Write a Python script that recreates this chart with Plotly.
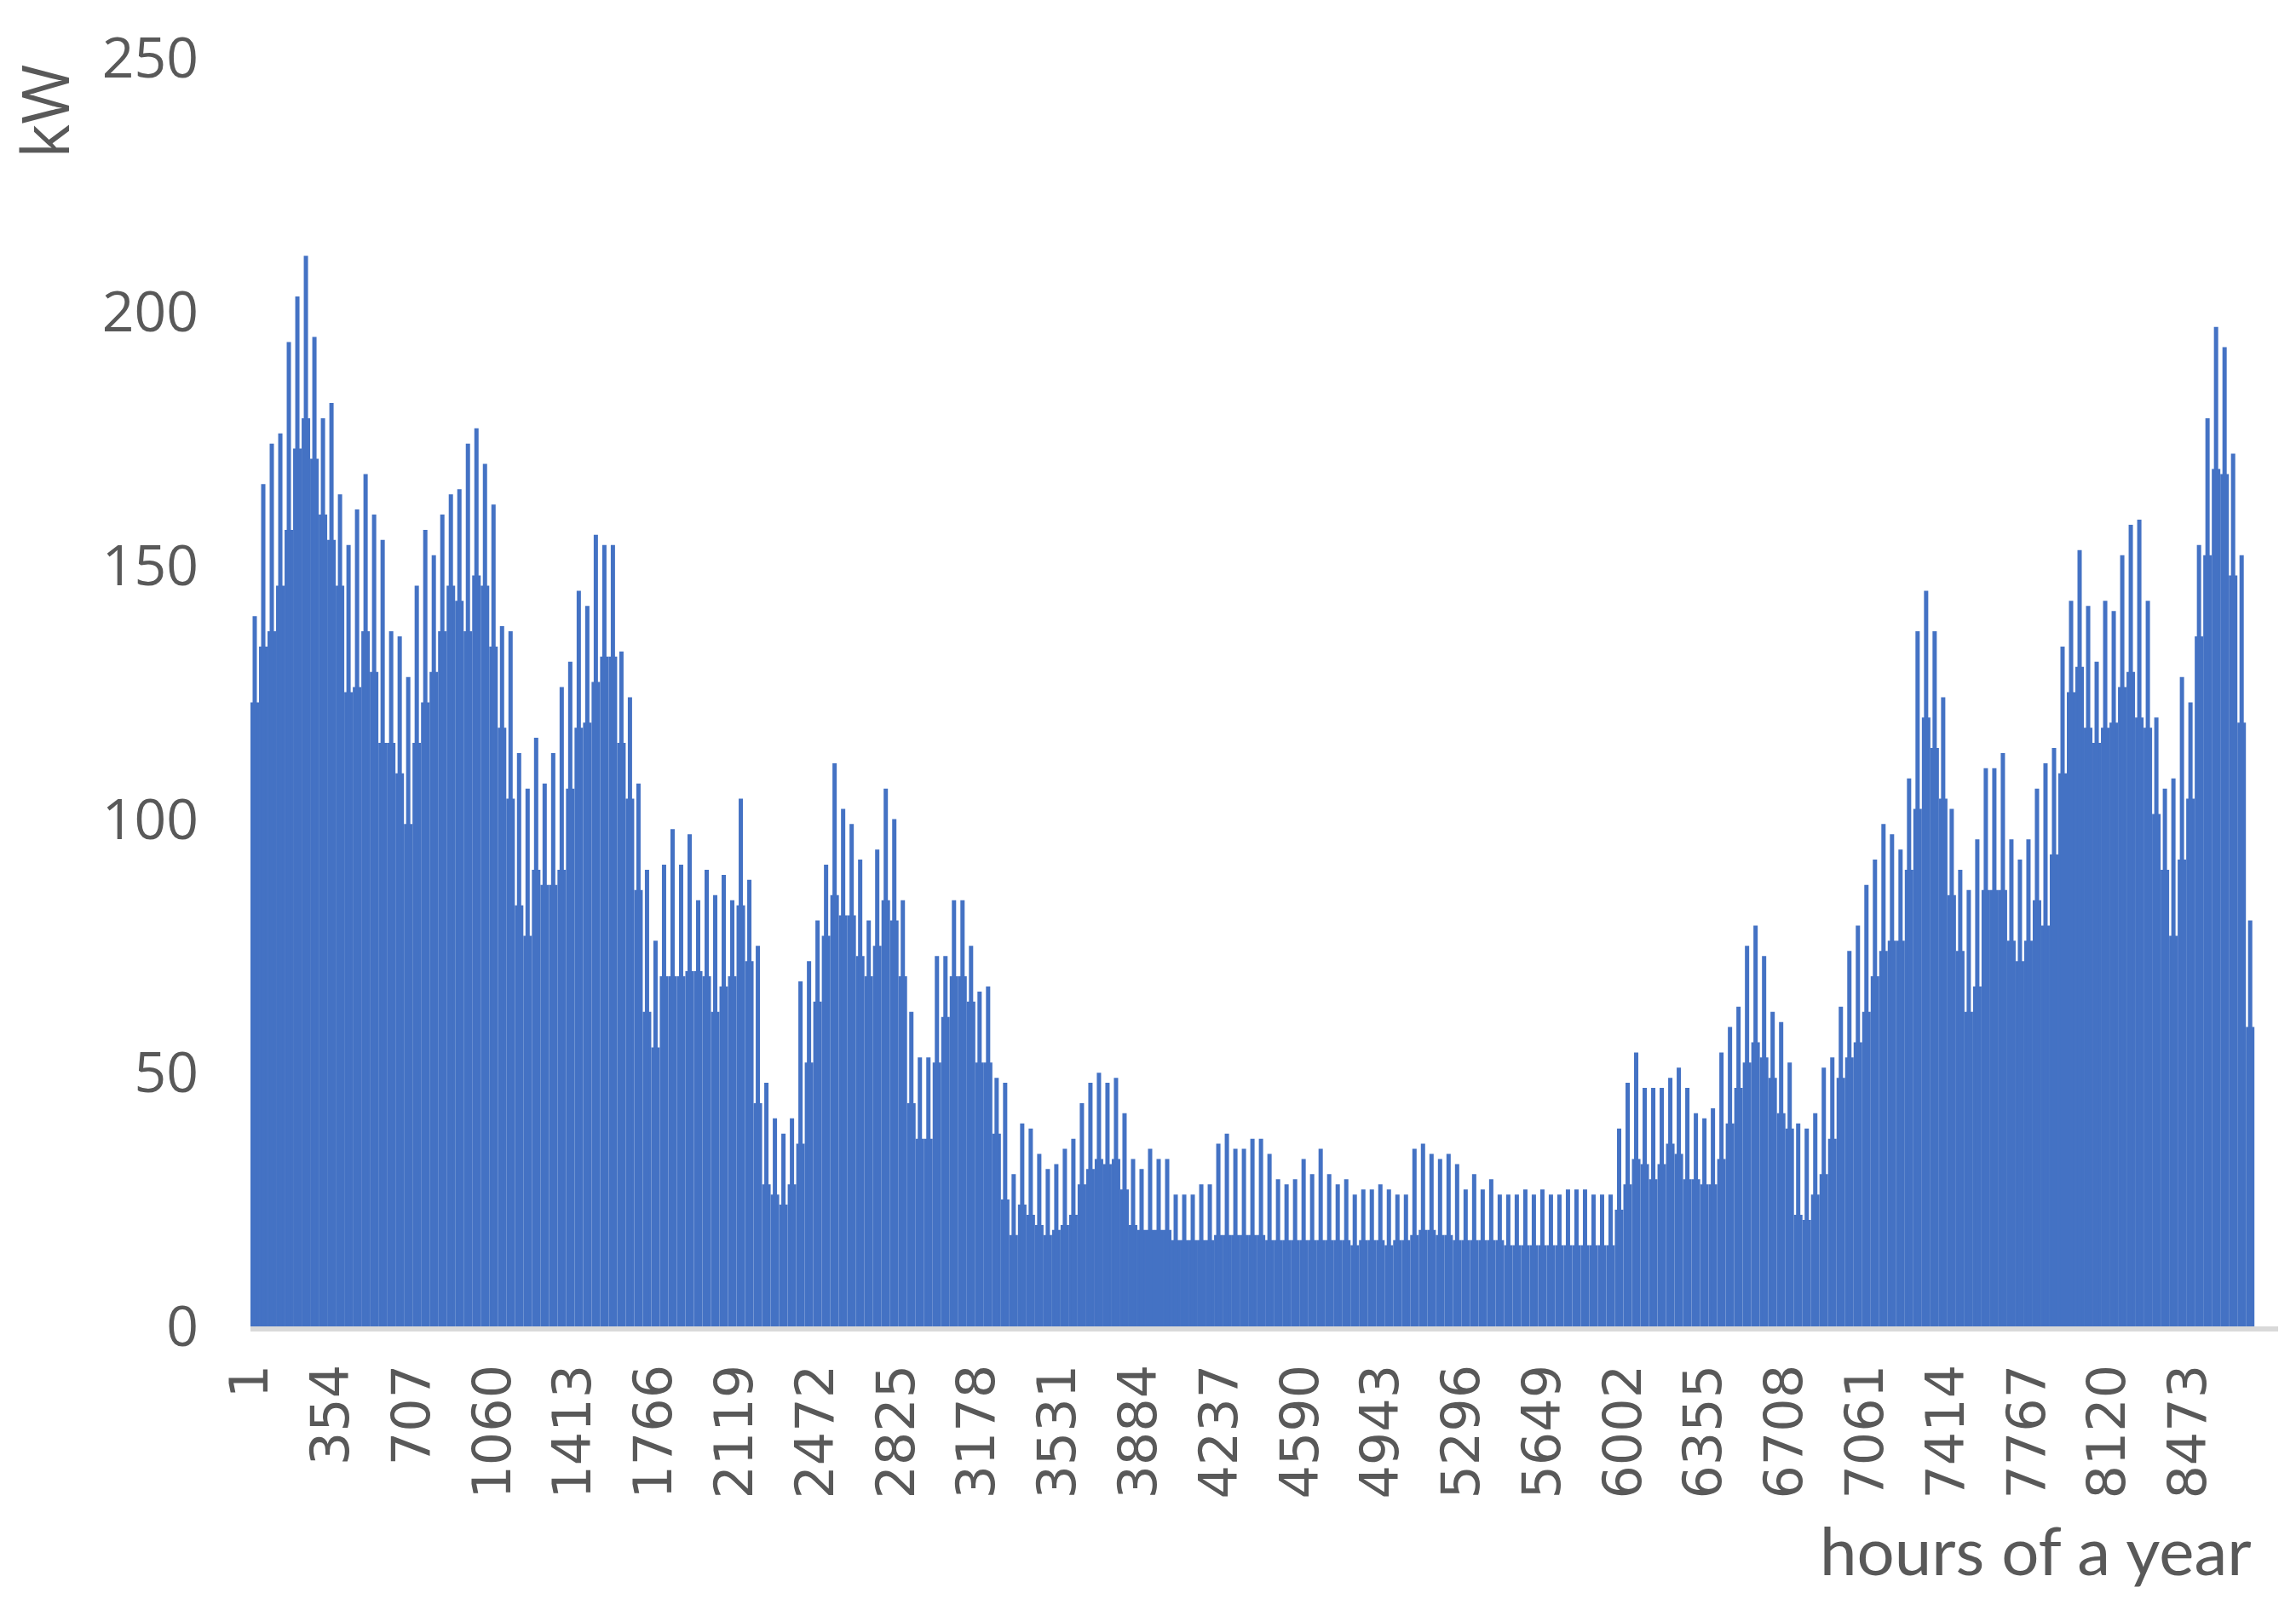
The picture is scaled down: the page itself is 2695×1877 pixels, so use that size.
import plotly.graph_objects as go

# hourly load in blocks of ~37 h (one block = 10 px of the original)
# peak_kw = tallest bar in the block, base_kw = level the block is mostly filled to
peak_kw = [
    140, 166, 174, 176, 194, 203, 211, 195, 179, 182, 164, 154, 161, 168, 160,
    155, 137, 136, 128, 146, 157, 152, 160, 164, 165, 174, 177, 170, 162, 138,
    137, 113, 106, 116, 107, 113, 126, 131, 145, 142, 156, 154, 154, 133, 124,
    107, 90, 76, 91, 98, 91, 97, 84, 90, 85, 89, 84, 104, 88,
    75, 48, 41, 38, 41, 68, 72, 80, 91, 111, 102, 99, 92, 80, 94,
    106, 100, 84, 62, 53, 53, 73, 73, 84, 84, 75, 66, 67, 49,
    48, 30, 40, 39, 34, 31, 32, 35, 37, 44, 48, 50, 48, 49, 42,
    33, 31, 35, 33, 33, 26, 26, 26, 28, 28, 36, 38, 35, 35, 37,
    37, 34, 29, 28, 29, 33, 30, 35, 30, 28, 29, 26, 27, 27, 28,
    27, 26, 26, 35, 36, 34, 33, 34, 32, 27, 30, 27, 29, 26,
    26, 26, 27, 26, 27, 26, 26, 27, 27, 27, 26, 26, 26, 39, 48,
    54, 47, 47, 47, 49, 51, 47, 42, 41, 43, 54, 59, 63, 75, 79,
    73, 62, 60, 52, 40, 39, 42, 51, 53, 63, 74, 79, 87, 92, 99,
    97, 94, 108, 137, 145, 137, 124, 102, 90, 86, 96, 110, 110, 113,
    96, 92, 96, 106, 111, 114, 134, 143, 153, 142, 131, 143, 141, 152, 158,
    159, 143, 120, 106, 108, 128, 123, 154, 179, 197, 193, 172, 152, 80,
]
base_kw = [
    123, 134, 137, 146, 157, 173, 179, 171, 160, 155, 146, 125, 126, 137, 129,
    115, 115, 109, 99, 115, 123, 129, 137, 146, 143, 137, 148, 146, 134, 118,
    104, 83, 77, 90, 87, 87, 90, 106, 118, 119, 127, 132, 132, 115, 104,
    86, 62, 55, 69, 69, 69, 70, 70, 69, 62, 67, 69, 83, 72,
    44, 28, 26, 24, 28, 36, 52, 64, 77, 85, 81, 81, 73, 69, 75,
    84, 80, 69, 44, 37, 37, 52, 61, 69, 69, 64, 52, 52, 38,
    25, 18, 24, 22, 20, 18, 19, 20, 22, 28, 31, 33, 32, 33, 27,
    20, 19, 19, 19, 19, 17, 17, 17, 17, 17, 18, 18, 18, 18, 18,
    18, 17, 17, 17, 17, 17, 17, 17, 17, 17, 17, 16, 17, 17, 17,
    16, 17, 17, 18, 19, 19, 18, 18, 17, 17, 17, 17, 17, 17,
    16, 16, 16, 16, 16, 16, 16, 16, 16, 16, 16, 16, 16, 23, 28,
    33, 32, 29, 32, 36, 34, 29, 29, 28, 28, 33, 40, 47, 52, 56,
    53, 49, 42, 39, 22, 21, 26, 30, 37, 49, 53, 56, 62, 69, 74,
    76, 76, 90, 102, 120, 114, 104, 85, 74, 62, 67, 86, 86, 86,
    76, 72, 76, 84, 79, 93, 109, 125, 130, 118, 115, 118, 119, 126, 129,
    120, 118, 101, 90, 77, 92, 104, 136, 152, 169, 168, 148, 119, 59,
]
tick_hours = [1, 354, 707, 1060, 1413, 1766, 2119, 2472, 2825, 3178, 3531, 3884,
              4237, 4590, 4943, 5296, 5649, 6002, 6355, 6708, 7061, 7414, 7767,
              8120, 8473]

HOURS = 8760
BLUE = '#4472C4'
GREY = '#595959'

seg = HOURS / len(peak_kw)
centers = [0.5 + (i + 0.5) * seg for i in range(len(peak_kw))]

fig = go.Figure()
fig.add_trace(go.Bar(x=centers, y=base_kw, width=seg, marker=dict(color=BLUE, line=dict(width=0))))
fig.add_trace(go.Bar(x=centers, y=peak_kw, width=seg * 0.5, marker=dict(color=BLUE, line=dict(width=0))))

# page body has an 8px margin, so the figure is shrunk a little to keep the plot where it was
fig.update_layout(
    width=2679, height=1861,
    barmode='overlay',
    showlegend=False,
    plot_bgcolor='white',
    paper_bgcolor='white',
    margin=dict(l=286, r=13, t=48, b=312),
    annotations=[
        dict(text='kW', xref='paper', yref='paper', x=-0.102, y=0.958,
             xanchor='center', yanchor='middle', textangle=-90, showarrow=False,
             font=dict(family='Open Sans', size=76, color=GREY)),
        dict(text='hours of a year', xref='paper', yref='paper', x=0.988, y=-0.176,
             xanchor='right', yanchor='middle', showarrow=False,
             font=dict(family='Lato', size=78, color=GREY)),
    ],
)

fig.update_xaxes(
    range=[0.5, 8864],
    tickmode='array',
    tickvals=tick_hours,
    ticktext=[str(h) for h in tick_hours],
    tickangle=-90,
    tickfont=dict(family='DejaVu Sans', size=62, color=GREY),
    ticks='',
    ticklabelstandoff=14,
    showline=True, linecolor='#D9D9D9', linewidth=6,
    showgrid=False, zeroline=False,
)
fig.update_yaxes(
    range=[0, 250],
    dtick=50,
    tickfont=dict(family='Open Sans', size=66, color=GREY),
    ticks='',
    ticklabelstandoff=60,
    showline=False, showgrid=False, zeroline=False,
)

fig.write_html("out.html")
